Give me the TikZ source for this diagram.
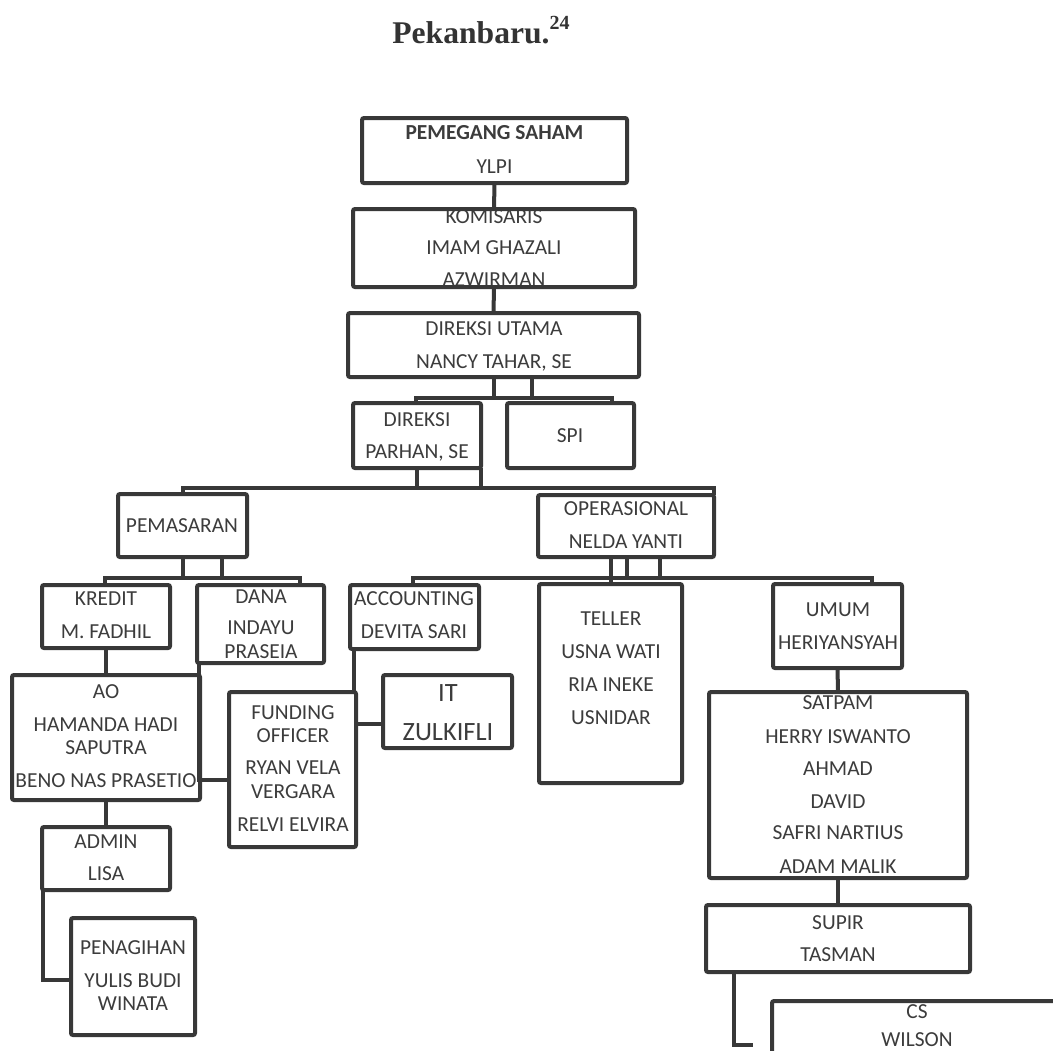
\documentclass[tikz,border=0pt]{standalone}
\usepackage{fontspec}
\setmainfont{Carlito}
\newfontfamily\titlefont{Liberation Serif}
\usetikzlibrary{fit}
\definecolor{ln}{HTML}{383838}
\definecolor{tx}{HTML}{3C3C3C}
\newcommand{\mytxt}[4]{\node[txt] (#1) at (#2,#3) {#4};}
\newcommand{\mybox}[5]{\node[obox, fit={(#2,#3) (#4,#5)}] (#1) {};}
\begin{document}
\begin{tikzpicture}[x=0.5pt,y=-0.5pt,
  obox/.style={draw=ln, line width=2pt, rounded corners=1pt, inner sep=0pt, outer sep=0pt},
  txt/.style={text=tx, inner sep=0pt, font=\fontsize{10.7}{12.5}\selectfont, text height=6.9pt, text depth=0pt},
  bigtxt/.style={txt, font=\fontsize{13.2}{15}\selectfont, text height=8.5pt},
  conn/.style={draw=ln, line width=2pt}
]
\clip (0,0) rectangle (1053,1050);
\fill[white] (0,0) rectangle (1053,1050);

% title
\node[font={\titlefont\bfseries\fontsize{15.8}{19}\selectfont}, text=black!80, anchor=base west, inner sep=0pt] (title) at (392,43) {Pekanbaru.\raisebox{7pt}{\fontsize{10}{10}\selectfont 24}};

% ---------- texts ----------
\node[txt, font=\fontsize{10.7}{12.5}\selectfont\bfseries] (pem1) at (494.5,133) {PEMEGANG SAHAM};
\mytxt{pem2}{494.5}{167}{YLPI}
\mytxt{kom1}{494}{217}{KOMISARIS}
\mytxt{kom2}{494}{248}{IMAM GHAZALI}
\mytxt{kom3}{494}{280}{AZWIRMAN}
\mytxt{du1}{494}{329}{DIREKSI UTAMA}
\mytxt{du2}{494}{362}{NANCY TAHAR, SE}
\mytxt{dir1}{417}{420}{DIREKSI}
\mytxt{dir2}{417}{452}{PARHAN, SE}
\mytxt{spi1}{570}{436}{SPI}
\mytxt{pms1}{182}{526}{PEMASARAN}
\mytxt{ops1}{626}{509}{OPERASIONAL}
\mytxt{ops2}{626}{542}{NELDA YANTI}
\mytxt{kre1}{106}{599}{KREDIT}
\mytxt{kre2}{106}{632}{M. FADHIL}
\mytxt{dana1}{261}{597}{DANA}
\mytxt{dana2}{261}{628}{INDAYU}
\mytxt{dana3}{261}{652}{PRASEIA}
\mytxt{acc1}{414}{599}{ACCOUNTING}
\mytxt{acc2}{414}{632}{DEVITA SARI}
\mytxt{tel1}{611}{619}{TELLER}
\mytxt{tel2}{611}{652}{USNA WATI}
\mytxt{tel3}{611}{685}{RIA INEKE}
\mytxt{tel4}{611}{718}{USNIDAR}
\mytxt{umum1}{838}{610}{UMUM}
\mytxt{umum2}{838}{643}{HERIYANSYAH}
\mytxt{ao1}{106}{692}{AO}
\mytxt{ao2}{106}{725}{HAMANDA HADI}
\mytxt{ao3}{106}{748}{SAPUTRA}
\mytxt{ao4}{106}{781}{BENO NAS PRASETIO}
\mytxt{fun1}{293}{713}{FUNDING}
\mytxt{fun2}{293}{736}{OFFICER}
\mytxt{fun3}{293}{768}{RYAN VELA}
\mytxt{fun4}{293}{792}{VERGARA}
\mytxt{fun5}{293}{825}{RELVI ELVIRA}
\node[bigtxt] (it1) at (448,693) {IT};
\node[bigtxt] (it2) at (448,732) {ZULKIFLI};
\mytxt{adm1}{106}{842}{ADMIN}
\mytxt{adm2}{106}{874}{LISA}
\mytxt{pen1}{133}{948}{PENAGIHAN}
\mytxt{pen2}{133}{981}{YULIS BUDI}
\mytxt{pen3}{133}{1004}{WINATA}
\mytxt{sat1}{838}{703}{SATPAM}
\mytxt{sat2}{838}{737}{HERRY ISWANTO}
\mytxt{sat3}{838}{769}{AHMAD}
\mytxt{sat4}{838}{802}{DAVID}
\mytxt{sat5}{838}{833}{SAFRI NARTIUS}
\mytxt{sat6}{838}{867}{ADAM MALIK}
\mytxt{sup1}{838}{923}{SUPIR}
\mytxt{sup2}{838}{955}{TASMAN}
\mytxt{cs1}{917}{1012}{CS}
\mytxt{cs2}{917}{1040}{WILSON}

% ---------- boxes ----------
\mybox{pem}{362}{118}{627}{183}
\mybox{kom}{353}{209}{635}{287}
\mybox{du}{348}{313}{639}{377}
\mybox{dir}{353}{403}{481}{468}
\mybox{spi}{507}{403}{634}{468}
\mybox{pms}{118}{494}{247}{557}
\mybox{ops}{538}{495}{714}{557}
\mybox{kre}{42}{585}{170}{648}
\mybox{dana}{197}{585}{324}{663}
\mybox{acc}{350}{585}{479}{649}
\mybox{tel}{539}{584}{682}{783}
\mybox{umum}{773}{584}{902}{668}
\mybox{ao}{12}{675}{200}{800}
\mybox{fun}{229}{692}{356}{847}
\mybox{it}{383}{675}{512}{748}
\mybox{adm}{42}{827}{170}{890}
\mybox{pen}{71}{918}{195}{1035}
\mybox{sat}{709}{692}{967}{878}
\mybox{sup}{706}{905}{970}{972}
\mybox{cs}{772}{1001}{1090}{1090}

% ---------- connectors ----------
\draw[conn] (pem.south) -- (kom.north);
\draw[conn] (kom.south) -- (du.north);

\coordinate (b1l) at (416,398);
\coordinate (b1r) at (612,398);
\coordinate (d1a) at (494,398);
\coordinate (d1b) at (532,398);
\draw[conn] (d1a |- du.south) -- (d1a);
\draw[conn] (d1b |- du.south) -- (d1b);
\draw[conn] (b1l |- dir.north) -- (b1l) -- (b1r) -- (b1r |- spi.north);

\coordinate (b2l) at (183,488);
\coordinate (b2r) at (714,488);
\coordinate (d2a) at (417,488);
\coordinate (d2b) at (481,488);
\draw[conn] (d2a |- dir.south) -- (d2a);
\draw[conn] (d2b |- dir.south) -- (d2b);
\draw[conn] (b2l |- pms.north) -- (b2l) -- (b2r) -- (b2r |- ops.north);

\coordinate (b3l) at (105,578);
\coordinate (b3r) at (300,578);
\coordinate (d3a) at (183,578);
\coordinate (d3b) at (222,578);
\draw[conn] (d3a |- pms.south) -- (d3a);
\draw[conn] (d3b |- pms.south) -- (d3b);
\draw[conn] (b3l |- kre.north) -- (b3l) -- (b3r) -- (b3r |- dana.north);

\coordinate (b4l) at (413,578);
\coordinate (b4r) at (872,578);
\coordinate (d4a) at (611,578);
\coordinate (d4b) at (627,578);
\coordinate (d4c) at (660,578);
\draw[conn] (d4a |- ops.south) -- (d4a |- tel.north);
\draw[conn] (d4b |- ops.south) -- (d4b);
\draw[conn] (d4c |- ops.south) -- (d4c);
\draw[conn] (b4l |- acc.north) -- (b4l) -- (b4r) -- (b4r |- umum.north);

\draw[conn] (kre.south) -- (ao.north);
\coordinate (c5) at (199,780);
\draw[conn] (c5 |- dana.south) -- (c5) -- (c5 -| fun.west);
\coordinate (c6) at (354,700);
\draw[conn] (c6 |- acc.south) -- (c6 |- fun.north);
\coordinate (c7) at (370,724);
\draw[conn] (c7 -| fun.east) -- (c7 -| it.west);
\draw[conn] (ao.south) -- (adm.north);
\coordinate (c8) at (43,980);
\draw[conn] (c8 |- adm.south) -- (c8) -- (c8 -| pen.west);
\draw[conn] (umum.south) -- (sat.north);
\draw[conn] (sat.south) -- (sup.north);
\coordinate (c9) at (734,1045);
\coordinate (cse) at (753,1045);
\draw[conn] (c9 |- sup.south) -- (c9) -- (cse);
\end{tikzpicture}
\end{document}
